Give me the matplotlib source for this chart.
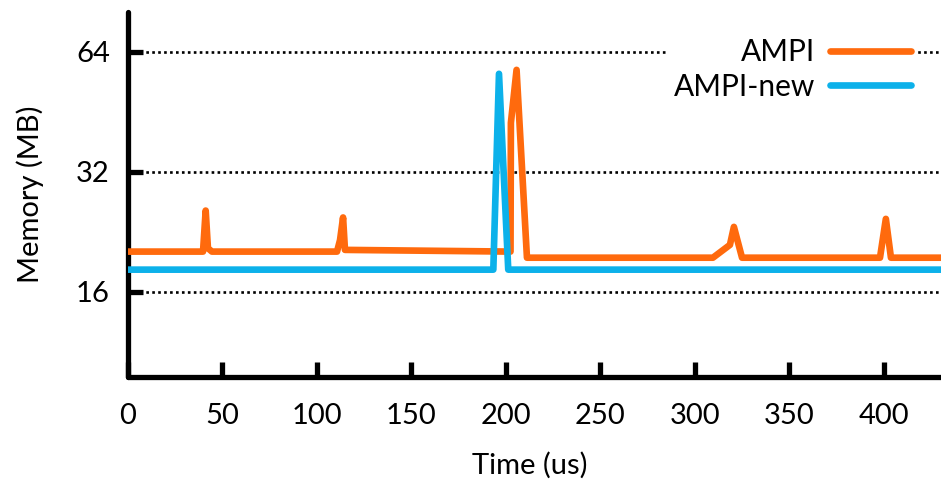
import matplotlib
matplotlib.use("Agg")
import matplotlib.pyplot as plt
from matplotlib.ticker import FixedLocator, NullLocator

plt.rcParams['font.family'] = ['Lato', 'DejaVu Sans']

# Data
ampi_x = [0, 39.7, 41.1, 42.3, 44.4, 110.6, 112.2, 113.8, 114.8, 202.4, 202.6, 205.6,
          211.1, 309.5, 318.5, 320.6, 324.9, 397.9, 401.0, 403.7, 436]
ampi_y = [20.2, 20.2, 25.6, 20.6, 20.2, 20.2, 21.6, 24.6, 20.4, 20.2, 42.5, 57.7,
          19.5, 19.5, 21.0, 23.3, 19.5, 19.5, 24.4, 19.5, 19.5]
new_x = [0, 193.3, 196.3, 201.2, 436]
new_y = [18.2, 18.2, 56.4, 18.2, 18.2]

x_ticks = [0, 50, 100, 150, 200, 250, 300, 350, 400]
y_ticks = [16, 32, 64]
y_tick_labels = ['16', '32', '64']

W, H = 941, 488
fig = plt.figure(figsize=(W / 100, H / 100), dpi=100)
ax = fig.add_axes([128 / W, 111 / H, (952 - 128) / W, (476 - 111) / H])

orange = '#ff6a0d'
blue = '#0cb1ea'

ax.plot(ampi_x, ampi_y, color=orange, lw=4.8, solid_joinstyle='round',
        solid_capstyle='round', label='AMPI', zorder=3)
ax.plot(new_x, new_y, color=blue, lw=4.8, solid_joinstyle='round',
        solid_capstyle='round', label='AMPI-new', zorder=3)

ax.set_yscale('log', base=2)
ax.set_ylim(9.79, 80.6)
ax.set_xlim(0, 436)
ax.yaxis.set_major_locator(FixedLocator(y_ticks))
ax.set_yticklabels(y_tick_labels)
ax.yaxis.set_minor_locator(NullLocator())
ax.set_xticks(x_ticks)
ax.set_xticklabels([str(t) for t in x_ticks])

for yv in y_ticks:
    ax.axhline(yv, color='black', lw=1.9, ls=(0, (1, 1.25)), zorder=1)

for s in ['top', 'right']:
    ax.spines[s].set_visible(False)
for s in ['left', 'bottom']:
    ax.spines[s].set_linewidth(3.8)
    ax.spines[s].set_capstyle('round')

ax.tick_params(axis='both', direction='in', length=11, width=3.8,
               labelsize=21, colors='black')
ax.tick_params(axis='y', pad=13)
ax.tick_params(axis='x', pad=19)

ax.set_xlabel('Time (us)', fontsize=21)
ax.xaxis.set_label_coords(0.488, -0.205)
ax.set_ylabel('Memory (MB)', fontsize=21, labelpad=23)

leg = ax.legend(loc='upper right', bbox_to_anchor=(917 / W, 1 - 32 / H),
                bbox_transform=fig.transFigure, markerfirst=False,
                frameon=True, fontsize=21.5, handlelength=2.7, handletextpad=0.5,
                labelspacing=0.22, borderpad=0.2, borderaxespad=0)
leg.get_frame().set_facecolor('white')
leg.get_frame().set_edgecolor('none')
leg.get_frame().set_alpha(1)
leg.set_zorder(5)

fig.savefig('out.png', dpi=100)
